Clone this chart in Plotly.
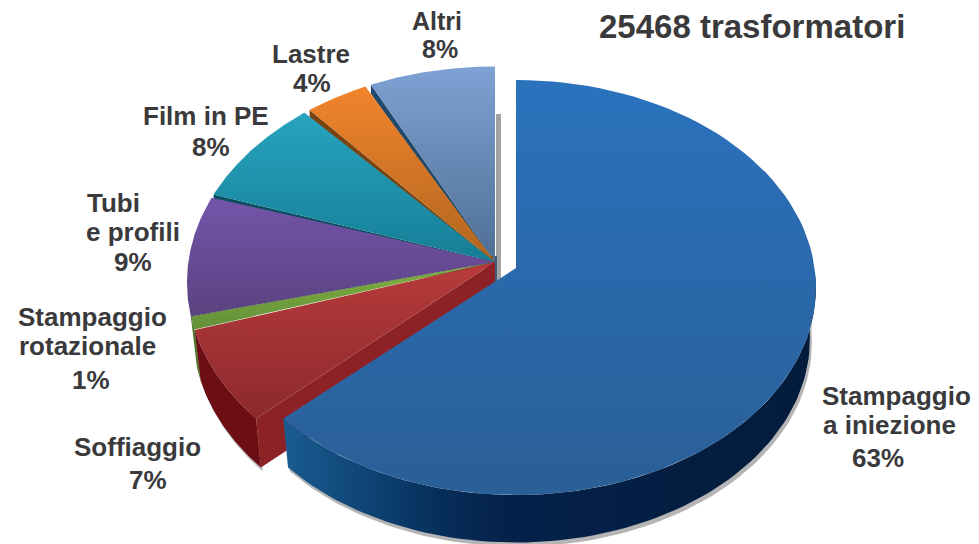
import numpy as np
import plotly.graph_objects as go

categories = ["Stampaggio a iniezione", "Soffiaggio", "Stampaggio rotazionale",
              "Tubi e profili", "Film in PE", "Lastre", "Altri"]
values = [63, 7, 1, 9, 8, 4, 8]
title_text = "25468 trasformatori"

top_colors = ["#2a72bd", "#b83b3b", "#80b23f", "#7454aa", "#27a4bf", "#f2852c", "#7ea2d4"]
low_colors = ["#2a5f97", "#8c292c", "#64903a", "#5a4380", "#167e96", "#b0651f", "#4e6e94"]
edge_colors = ["#0a2f58", "#84191e", "#2f5a20", "#2c1a60", "#0d4f60", "#7a4410", "#1f4a6c"]

K, S, DEPTH = 0.094, 0.98, 52
GAP = 0.9


def project(theta_deg, ax, ay, sx, sy, warp=0.0):
    th = np.asarray(theta_deg, dtype=float)
    th = th + warp * np.sin(np.clip((th - 288) / 72, 0, 1) * np.pi)
    t = np.radians(th)
    u, v = np.sin(t), -np.cos(t)
    w = 1 - K * v
    return ax + sx * 298.6 * u / w, ay + sy * 205.7 * v / w


def lower(x, y, ax, ay):
    return ax + S * (x - ax), ay + DEPTH + S * (y - ay)


def poly(x, y, scale=None, solid=None):
    d = dict(x=list(x), y=list(y), mode="lines", fill="toself", line=dict(width=0),
             hoverinfo="skip", showlegend=False)
    if solid:
        d["fillcolor"] = solid
    else:
        d["fillgradient"] = scale
    return go.Scatter(**d)


def vgrad(c1, c2):
    return dict(type="vertical", colorscale=[[0, c2], [1, c1]])


def hgrad(stops):
    return dict(type="horizontal", colorscale=stops)


bounds = np.cumsum([0] + values) * 3.6
fig = go.Figure()

for i in range(len(values) - 1, -1, -1):
    t1, t2 = bounds[i], bounds[i + 1]
    if i == 0:
        ax, ay, sx, sy, warp = 516.0, 268.0, 1.0, 1.0, 0.0
        t1f, t2f = t1, t2
    else:
        ax, ay, sx, sy, warp = 495.0, 262.0, 1.027, 1.04, 2.0
        t1f = t1 + GAP if i >= 4 else t1
        t2f = t2 if i in (1, 2, 3, 6) else t2 - GAP * 0.4

    arc = np.linspace(t1f, t2f, 90)
    rx, ry = project(arc, ax, ay, sx, sy, warp)

    # thin dark cut face along the lower edge of the slices at the back
    if i >= 3:
        ex, ey = project(np.array([t1f]), ax, ay, sx, sy, warp)
        band = 9 if i >= 4 else 3
        fig.add_trace(poly([ax, ex[0], ex[0], ax], [ay, ey[0], ey[0] + band, ay + band],
                           solid=edge_colors[i]))

    # outer rim, only where it faces the viewer
    lo, hi = max(t1f, 92), min(t2f, 268)
    if lo < hi and i in (0, 1, 2):
        rim = np.linspace(lo, hi, 90)
        ox, oy = project(rim, ax, ay, sx, sy, warp)
        bx, by = lower(ox, oy, ax, ay)
        fig.add_trace(poly(np.r_[ox, bx[::-1] + 2], np.r_[oy, by[::-1] + 4],
                           solid="rgba(70,70,70,0.40)"))
        if i == 0:
            stops = [[0, "#1b5c90"], [0.12, "#114a7c"], [0.28, "#07305c"], [0.42, "#04214a"], [1, "#041c3b"]]
        elif i == 1:
            stops = [[0, "#6c0e13"], [1, "#6c0e13"]]
        else:
            stops = [[0, "#4d7a2a"], [1, "#4d7a2a"]]
        fig.add_trace(poly(np.r_[ox, bx[::-1]], np.r_[oy, by[::-1]], scale=hgrad(stops)))
        if i == 1:
            ex, ey = project(np.array([t1f]), ax, ay, sx, sy, warp)
            bx2, by2 = lower(ex, ey, ax, ay)
            fig.add_trace(poly([ax, ex[0], bx2[0], ax], [ay, ey[0], by2[0], ay + DEPTH],
                               solid="#8c2226"))

    # the back slices: shadow strip and visible hub edges
    if i == len(values) - 1:
        fig.add_trace(poly([ax + 1, ax + 1, ax + 6, ax + 6], [ay - 148, ay + 24, ay + 24, ay - 148],
                           solid="#a3a3a3"))
        fig.add_trace(poly([ax - 3, ax - 3, ax + 2, ax + 2], [ay - 6, ay + 24, ay + 24, ay - 6],
                           solid="#3f5f80"))
    if i == 5:
        fig.add_trace(poly([ax - 6, ax - 6, ax - 2, ax - 2], [ay - 6, ay + 24, ay + 24, ay - 6],
                           solid="#7a4a12"))

    # top face
    fig.add_trace(poly(np.r_[ax, rx, ax], np.r_[ay, ry, ay],
                       scale=vgrad(top_colors[i], low_colors[i])))

c = categories
p = [f"{v}%" for v in values]
lines = [
    (title_text, 752, 26, 33),
    ("Altri", 437, 21, 25), (p[6], 440, 49, 25),
    ("Lastre", 311, 54, 26), (p[5], 312, 83, 26),
    (c[4], 206, 116, 26), (p[4], 211, 147, 26),
    ("Tubi", 113, 203, 26), ("e profili", 133, 232, 26), (p[3], 133, 262, 26),
    ("Stampaggio", 92, 317, 26), ("rotazionale", 87, 346, 26), (p[2], 91, 380, 26),
    (c[1], 137, 447, 26), (p[1], 148, 480, 26),
    ("Stampaggio", 896, 396, 26), ("a iniezione", 889, 425, 26), (p[0], 878, 458, 26),
]
for txt, x, y, size in lines:
    fig.add_annotation(x=x, y=y, text=f"<b>{txt}</b>", showarrow=False, xanchor="center",
                       yanchor="middle",
                       font=dict(family="Liberation Sans", size=size, color="#3a3a3c"))

fig.update_layout(
    width=979, height=544, margin=dict(l=0, r=0, t=0, b=0), showlegend=False,
    paper_bgcolor="white", plot_bgcolor="white",
    xaxis=dict(range=[0, 979], visible=False, fixedrange=True),
    yaxis=dict(range=[544, 0], visible=False, fixedrange=True),
)
fig.write_html("out.html", config=dict(displayModeBar=False),
               post_script="document.body.style.margin='0';document.documentElement.style.overflow='hidden';")
